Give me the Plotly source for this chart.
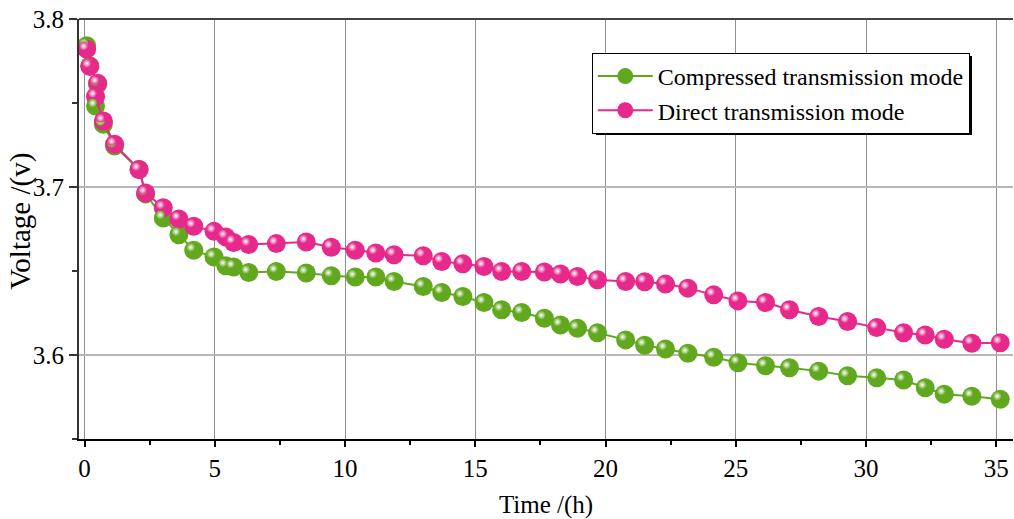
import plotly.graph_objects as go

time_h = [0.08, 0.20, 0.50, 0.42, 0.72, 1.15, 2.09, 2.34, 3.02, 3.62, 4.19, 4.97, 5.42, 5.72,
          6.30, 7.36, 8.51, 9.47, 10.39, 11.18, 11.88, 13.00, 13.71, 14.52, 15.33, 16.01,
          16.78, 17.65, 18.27, 18.92, 19.69, 20.77, 21.50, 22.30, 23.16, 24.15, 25.08,
          26.14, 27.06, 28.18, 29.29, 30.41, 31.44, 32.27, 33.00, 34.06, 35.15]

compressed = [3.7841, 3.7721, 3.7612, 3.7482, 3.7373, 3.7244, 3.7104, 3.6959, 3.6816, 3.6716,
              3.6623, 3.6583, 3.6531, 3.6524, 3.6491, 3.6497, 3.6488, 3.6472, 3.6464, 3.6464,
              3.6438, 3.6408, 3.6372, 3.6348, 3.6312, 3.6269, 3.6253, 3.6219, 3.6179, 3.6159,
              3.6133, 3.6090, 3.6058, 3.6036, 3.6010, 3.5987, 3.5954, 3.5936, 3.5924, 3.5904,
              3.5876, 3.5864, 3.5851, 3.5805, 3.5767, 3.5755, 3.5737]

direct = [3.7821, 3.7718, 3.7618, 3.7539, 3.7393, 3.7254, 3.7104, 3.6964, 3.6876, 3.6810,
          3.6766, 3.6736, 3.6703, 3.6670, 3.6657, 3.6663, 3.6673, 3.6641, 3.6624, 3.6607,
          3.6597, 3.6591, 3.6557, 3.6543, 3.6527, 3.6497, 3.6497, 3.6494, 3.6482, 3.6467,
          3.6448, 3.6438, 3.6436, 3.6422, 3.6398, 3.6358, 3.6322, 3.6312, 3.6269, 3.6229,
          3.6199, 3.6163, 3.6133, 3.6119, 3.6094, 3.6070, 3.6073]

series_names = ["Compressed transmission mode", "Direct transmission mode"]
x_ticks = [0, 5, 10, 15, 20, 25, 30, 35]
y_ticks = [3.6, 3.7, 3.8]

GREEN = "#62a81e"
PINK = "#e6298b"
FONT = "Liberation Serif"

fig = go.Figure()

for vals, name, col in [(compressed, series_names[0], GREEN), (direct, series_names[1], PINK)]:
    fig.add_trace(go.Scatter(
        x=time_h, y=vals, name=name, mode="lines+markers",
        line=dict(color=col, width=2),
        marker=dict(color=col, size=19, line=dict(width=0)),
        xaxis="x", yaxis="y",
    ))
    # specular highlight (shifted overlay axes give up-left offset)
    fig.add_trace(go.Scatter(
        x=time_h, y=vals, mode="markers", showlegend=False, hoverinfo="skip",
        marker=dict(color=col, size=9, line=dict(width=0),
                    gradient=dict(type="radial", color="#ffffff")),
        xaxis="x2", yaxis="y2",
    ))

xr = [-0.215, 35.64]
yr = [3.55, 3.8]
dx = 3 * (xr[1] - xr[0]) / 934
dy = 3 * (yr[1] - yr[0]) / 420

LEG_TOP = 53
LEG_BOTTOM = 132

fig.update_layout(
    width=1014, height=519,
    margin=dict(l=79, r=1, t=19, b=80, autoexpand=False),
    paper_bgcolor="white", plot_bgcolor="white",
    font=dict(family=FONT, size=25, color="black"),
    showlegend=True,
    legend=dict(
        x=0.549, y=(439.3 - LEG_TOP) / 420.3, xanchor="left", yanchor="top",
        bgcolor="white", bordercolor="black", borderwidth=1,
        font=dict(family=FONT, size=24, color="black"),
        itemwidth=55, tracegroupgap=0,
    ),
    xaxis=dict(
        range=xr, tickvals=x_ticks, ticktext=[str(v) for v in x_ticks],
        showgrid=True, gridcolor="#8f8f8f", gridwidth=1.2,
        showline=True, linecolor="black", linewidth=2,
        ticks="outside", ticklen=6, tickwidth=1.5, tickcolor="black",
        minor=dict(dtick=2.5, tick0=0, ticks="outside", ticklen=4, tickcolor="black", showgrid=False),
        zeroline=False, automargin=False,
        tickfont=dict(family=FONT, size=25),
        title=dict(text="Time /(h)", font=dict(family=FONT, size=25), standoff=14),
    ),
    yaxis=dict(
        range=yr, tickvals=y_ticks, ticktext=["3.6", "3.7", "3.8"],
        showgrid=True, gridcolor="#b8b8b8", gridwidth=2,
        showline=True, linecolor="#333333", linewidth=2,
        ticks="outside", ticklen=8, tickwidth=1.5, tickcolor="#333333",
        minor=dict(dtick=0.05, tick0=3.55, ticks="outside", ticklen=5, tickcolor="#333333", showgrid=False),
        zeroline=False, automargin=False,
        tickfont=dict(family=FONT, size=25),
    ),
    xaxis2=dict(range=[xr[0] + dx, xr[1] + dx], overlaying="x", visible=False, showgrid=False),
    yaxis2=dict(range=[yr[0] - dy, yr[1] - dy], overlaying="y", visible=False, showgrid=False),
    annotations=[
        dict(text="Voltage /(v)", xref="paper", yref="paper",
             x=(21 - 79) / 934, y=(439.3 - 222) / 420.3,
             xanchor="center", yanchor="middle", textangle=-90, showarrow=False,
             font=dict(family=FONT, size=29, color="black")),
    ],
    shapes=[
        dict(type="line", xref="paper", yref="paper", x0=0, x1=1, y0=1, y1=1,
             line=dict(color="#444444", width=2)),
        dict(type="rect", xref="paper", yref="paper",
             x0=(596 - 79) / 934, x1=(972 - 79) / 934,
             y0=(439.3 - LEG_BOTTOM - 3) / 420.3, y1=(439.3 - LEG_TOP - 3) / 420.3,
             fillcolor="black", line=dict(width=0), layer="above"),
    ],
)

fig.write_html(
    "out.html",
    config={"displayModeBar": False},
    post_script="document.body.style.margin='0';document.body.style.padding='0';document.body.style.overflow='hidden';",
)
